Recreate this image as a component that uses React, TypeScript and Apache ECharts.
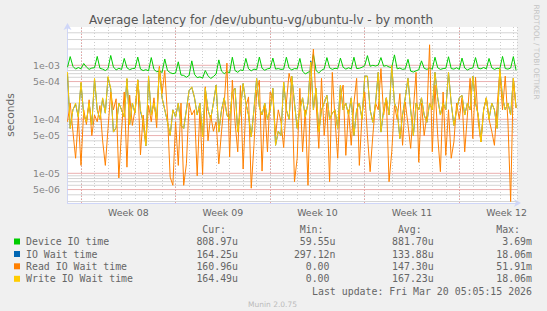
import React, { useEffect, useRef } from "react";
import * as echarts from "echarts";

// ---- time base: one point every 0.2 day, day 0 = first day line at the left edge
const dayStep = 0.2;

// ---- series values in microseconds
const deviceIO = [
  920, 1450, 960, 850, 910, 860, 1080, 930, 840, 890,
  900, 1460, 880, 850, 800, 870, 1520, 930, 820, 880,
  840, 1340, 900, 830, 870, 880, 1420, 850, 800, 830,
  790, 1390, 840, 760, 780, 740, 1310, 800, 730, 700,
  720, 1160, 660, 650, 600, 650, 1210, 680, 590, 610,
  580, 800, 640, 570, 620, 690, 1260, 780, 700, 760,
  730, 1410, 800, 740, 820, 800, 1340, 860, 790, 850,
  830, 1420, 880, 810, 860, 880, 1360, 850, 870, 840,
  850, 1410, 890, 820, 870, 860, 1340, 780, 690, 740,
  790, 1600, 800, 720, 810, 860, 1390, 900, 840, 880,
  870, 1360, 920, 850, 900, 860, 1410, 870, 880, 920,
  990, 1510, 960, 1000, 970, 1010, 1390, 960, 990, 930,
  910, 1560, 860, 890, 840, 860, 1290, 780, 750, 790,
  830, 1210, 880, 840, 890, 850, 1410, 900, 840, 870,
  880, 1440, 870, 850, 900, 840, 1360, 890, 820, 870,
  890, 1390, 880, 860, 910, 860, 1340, 900, 840, 880,
  870, 1460, 870, 850, 890, 1450, 809,
];

const ioWait = [
  700, 68, 150, 190, 110, 470, 120, 90, 200, 80,
  560, 150, 100, 240, 130, 600, 360, 58, 70, 200,
  150, 110, 560, 80, 200, 130, 540, 140, 90, 32,
  620, 120, 200, 100, 900, 250, 150, 90, 50, 150,
  110, 200, 77, 68, 150, 340, 390, 250, 120, 200,
  47, 375, 150, 100, 200, 430, 58, 150, 250, 120,
  100, 320, 375, 58, 150, 460, 200, 120, 47, 150,
  574, 169, 120, 200, 100, 150, 375, 33, 60, 50,
  490, 150, 100, 630, 200, 68, 150, 250, 110, 200,
  1200, 150, 375, 58, 150, 200, 278, 100, 130, 150,
  68, 430, 150, 200, 120, 250, 50, 150, 200, 100,
  630, 630, 150, 88, 200, 740, 58, 150, 250, 120,
  1000, 200, 150, 44, 120, 250, 574, 150, 50, 200,
  150, 250, 120, 88, 200, 150, 740, 250, 120, 200,
  150, 740, 200, 77, 150, 250, 278, 120, 200, 150,
  630, 200, 120, 38, 150, 250, 100, 200, 150, 68,
  880, 250, 150, 200, 120, 574, 164.25,
];

const readWait = [
  90, 200, 60, 19, 110, 14, 150, 80, 230, 50,
  120, 90, 180, 40, 14, 68, 320, 150, 240, 8.2,
  60, 320, 13, 280, 77, 150, 530, 22, 120, 36,
  180, 90, 250, 70, 960, 300, 800, 120, 8.5, 6,
  90, 14, 200, 6, 15, 200, 120, 150, 9, 160,
  9.5, 400, 40, 120, 60, 90, 15, 60, 200, 1100,
  20, 530, 90, 25, 420, 12, 170, 260, 5.3, 33,
  320, 530, 11, 180, 25, 320, 250, 50, 150, 90,
  30, 200, 710, 420, 7, 19, 375, 25, 150, 6,
  490, 2000, 200, 29, 574, 50, 200, 7, 740, 100,
  19, 250, 430, 21.5, 150, 33, 200, 574, 14, 120,
  320, 50, 10.7, 50, 200, 150, 870, 120, 250, 7,
  25, 180, 100, 300, 33, 209, 80, 29, 150, 740,
  16, 200, 50, 120, 2400, 25, 430, 50, 10.7, 320,
  21.5, 150, 19, 38, 200, 100, 250, 25, 120, 574,
  44, 600, 90, 38, 150, 250, 100, 60, 33, 180,
  740, 150, 630, 90, 3, 574, 160.96,
];

const writeWait = [
  750, 68, 150, 200, 110, 490, 120, 90, 200, 80,
  574, 150, 100, 250, 130, 620, 375, 58, 70, 200,
  150, 110, 574, 80, 200, 130, 540, 150, 90, 32,
  630, 120, 200, 100, 880, 250, 150, 90, 50, 150,
  110, 200, 77, 68, 150, 340, 400, 250, 120, 200,
  47, 375, 150, 100, 200, 430, 58, 150, 250, 120,
  100, 320, 375, 58, 150, 460, 200, 120, 47, 150,
  574, 169, 120, 200, 100, 150, 375, 33, 60, 50,
  490, 150, 100, 630, 200, 68, 150, 250, 110, 200,
  1150, 150, 375, 58, 150, 200, 278, 100, 130, 150,
  68, 430, 150, 200, 120, 250, 50, 150, 200, 100,
  630, 630, 150, 88, 200, 740, 58, 150, 250, 120,
  1000, 200, 150, 44, 120, 250, 574, 150, 50, 200,
  150, 250, 120, 88, 200, 150, 740, 250, 120, 200,
  150, 740, 200, 77, 150, 250, 278, 120, 200, 150,
  630, 200, 120, 38, 150, 250, 100, 200, 150, 68,
  880, 250, 150, 200, 120, 574, 164.49,
];

// ---- axis ticks / labels
const weekLabels = ["Week 08", "Week 09", "Week 10", "Week 11", "Week 12"];
const weekLabelDays = [4.5, 11.5, 18.5, 25.5, 32.5];
const weekStartDays = [1, 8, 15, 22, 29];
const majorTicks = [5e-6, 1e-5, 5e-5, 1e-4, 5e-4, 1e-3];
const majorTickLabels = ["5e-06", "1e-05", "5e-05", "1e-04", "5e-04", "1e-03"];
const minorTicks = [
  3e-6, 4e-6, 6e-6, 7e-6, 8e-6, 9e-6, 2e-5, 3e-5, 4e-5, 6e-5, 7e-5, 8e-5, 9e-5,
  2e-4, 3e-4, 4e-4, 6e-4, 7e-4, 8e-4, 9e-4, 2e-3, 3e-3, 4e-3,
];

// ---- legend table
const legendNames = ["Device IO time", "IO Wait time", "Read IO Wait time", "Write IO Wait time"];
const legendColors = ["#00cc00", "#0066b3", "#ff8000", "#ffcc00"];
const curValues = ["808.97u", "164.25u", "160.96u", "164.49u"];
const minValues = ["59.55u", "297.12n", "0.00", "0.00"];
const avgValues = ["881.70u", "133.88u", "147.30u", "167.23u"];
const maxValues = ["3.69m", "18.06m", "51.91m", "18.06m"];
const columnHeaders = ["Cur:", "Min:", "Avg:", "Max:"];
const lastUpdate = "Last update: Fri Mar 20 05:05:15 2026";
const titleText = "Average latency for /dev/ubuntu-vg/ubuntu-lv - by month";

const X_MIN = 0;
const X_MAX = 33.27;
const Y_MIN = 2.82e-6;
const Y_MAX = 5.12e-3;

export default function App() {
  const ref = useRef<HTMLDivElement>(null);

  useEffect(() => {
    if (!ref.current) return;
    const chart = echarts.init(ref.current, undefined, { renderer: "svg" });

    const days = deviceIO.map((_, i) => +(i * dayStep).toFixed(2));
    const mk = (vals: number[]) => vals.map((v, i) => [days[i], v / 1e6]);

    const FONT = "#666666";
    const mono = "'DejaVu Sans Mono', monospace";
    const sans = "'DejaVu Sans', sans-serif";
    const charW = 6.0;

    const seriesDefs = [
      { name: legendNames[0], vals: deviceIO, color: legendColors[0] },
      { name: legendNames[1], vals: ioWait, color: legendColors[1] },
      { name: legendNames[2], vals: readWait, color: legendColors[2] },
      { name: legendNames[3], vals: writeWait, color: legendColors[3] },
    ];

    const minorColor = "#cccccc";
    const majorColor = "#e9a0a0";
    const minorStyle = { color: minorColor, type: [1, 2] as any, width: 1 };
    const majorStyle = { color: majorColor, type: [1, 2] as any, width: 1 };
    // horizontal grid: solid, light
    const hMinorStyle = { color: "#d4d4d4", type: "solid", width: 1 };
    const hMajorStyle = { color: "#eab0b0", type: "solid", width: 1 };

    const weekLineSeries = {
      type: "line",
      data: [],
      silent: true,
      z: 2,
      markLine: {
        silent: true,
        z: 2,
        precision: 12,
        symbol: ["none", "none"],
        animation: false,
        label: { show: false },
        emphasis: { disabled: true },
        data: weekStartDays.map((d) => ({ xAxis: d, lineStyle: majorStyle })),
      },
    };
    // horizontal grid lines as line series drawn on the log axis
    const hLineSeries = [
      ...minorTicks.map((v) => ({ v, style: hMinorStyle })),
      ...majorTicks.map((v) => ({ v, style: hMajorStyle })),
    ].map(({ v, style }) => ({
      type: "line",
      data: [
        [X_MIN, v],
        [X_MAX, v],
      ],
      symbol: "none",
      showSymbol: false,
      silent: true,
      clip: false,
      z: 2,
      lineStyle: style,
    }));
    // y tick labels anchored on the log axis
    const tickSeries = {
      type: "scatter",
      silent: true,
      z: 3,
      symbolSize: 1,
      itemStyle: { color: "rgba(0,0,0,0)" },
      data: majorTicks.map((v, i) => ({ value: [X_MIN, v], name: majorTickLabels[i] })),
      label: {
        show: true,
        position: "left",
        distance: 7,
        formatter: "{b}",
        color: FONT,
        fontFamily: sans,
        fontSize: 9.4,
      },
    };

    const graphics: any[] = [];
    graphics.push({
      type: "text",
      x: 261,
      y: 20,
      style: { text: titleText, fill: "#555555", fontFamily: sans, fontSize: 12, align: "center", verticalAlign: "middle" },
    });
    graphics.push({
      type: "text",
      x: 10,
      y: 115,
      rotation: Math.PI / 2,
      style: { text: "seconds", fill: FONT, fontFamily: sans, fontSize: 10.7, align: "center", verticalAlign: "middle" },
    });
    graphics.push({
      type: "text",
      x: 536.5,
      y: 52,
      rotation: -Math.PI / 2,
      style: { text: "RRDTOOL / TOBI OETIKER", fill: "#c4c4c4", fontFamily: sans, fontSize: 7.4, align: "center", verticalAlign: "middle" },
    });

    const colRight = [238, 335.5, 433.7, 532];
    const rowY = [241.5, 254, 266.3, 278.8];
    columnHeaders.forEach((h, c) =>
      graphics.push({
        type: "text",
        x: colRight[c] - 2 * charW,
        y: 229,
        style: { text: h, fill: FONT, fontFamily: mono, fontSize: 9.9, align: "right", verticalAlign: "middle" },
      })
    );
    const cols = [curValues, minValues, avgValues, maxValues];
    legendNames.forEach((n, r) => {
      graphics.push({
        type: "rect",
        shape: { x: 14, y: rowY[r] - 3, width: 6, height: 6 },
        style: { fill: legendColors[r] },
      });
      graphics.push({
        type: "text",
        x: 26,
        y: rowY[r],
        style: { text: n, fill: FONT, fontFamily: mono, fontSize: 9.9, align: "left", verticalAlign: "middle" },
      });
      cols.forEach((col, c) => {
        const s = col[r];
        const hasUnit = /[a-zA-Z]$/.test(s);
        graphics.push({
          type: "text",
          x: colRight[c] - (hasUnit ? 0 : charW),
          y: rowY[r],
          style: { text: s, fill: FONT, fontFamily: mono, fontSize: 9.9, align: "right", verticalAlign: "middle" },
        });
      });
    });
    graphics.push({
      type: "text",
      x: 532,
      y: 291.6,
      style: { text: lastUpdate, fill: FONT, fontFamily: mono, fontSize: 9.9, align: "right", verticalAlign: "middle" },
    });
    graphics.push({
      type: "text",
      x: 272.5,
      y: 304.5,
      style: { text: "Munin 2.0.75", fill: "#bbbbbb", fontFamily: sans, fontSize: 7.5, align: "center", verticalAlign: "middle" },
    });

    const axisColor = "#cfd6f8";

    const dataSeries = seriesDefs.map((s, i) => ({
      type: "line",
      name: s.name,
      data: mk(s.vals),
      showSymbol: false,
      symbol: "none",
      silent: true,
      z: 10 + i,
      lineStyle: { color: s.color, width: 1 },
      itemStyle: { color: s.color },
    }));

    chart.setOption({
      animation: false,
      backgroundColor: "#f0f0f0",
      grid: { left: 67.5, top: 27, width: 449.5, height: 176, show: true, backgroundColor: "#ffffff", borderWidth: 0 },
      xAxis: {
        type: "value",
        min: X_MIN,
        max: X_MAX,
        interval: 1,
        axisLine: {
          show: true,
          onZero: false,
          lineStyle: { color: axisColor, width: 1 },
          symbol: ["none", "arrow"],
          symbolSize: [6, 7],
          symbolOffset: [0, 4],
        },
        axisTick: { show: false },
        axisLabel: {
          customValues: weekLabelDays,
          formatter: (v: number) => {
            const k = weekLabelDays.findIndex((d) => Math.abs(d - v) < 1e-6);
            return k >= 0 ? weekLabels[k] : "";
          },
          color: FONT,
          fontFamily: sans,
          fontSize: 9.4,
          margin: 5,
        },
        splitLine: { show: true, lineStyle: minorStyle },
      },
      yAxis: {
        type: "log",
        logBase: 10,
        min: Y_MIN,
        max: Y_MAX,
        axisLine: {
          show: true,
          onZero: false,
          lineStyle: { color: axisColor, width: 1 },
          symbol: ["none", "arrow"],
          symbolSize: [6, 7],
          symbolOffset: [0, 4],
        },
        axisTick: { show: false },
        axisLabel: { show: false },
        splitLine: { show: false },
        minorSplitLine: { show: false },
      },
      series: [weekLineSeries, ...hLineSeries, tickSeries, ...dataSeries],
      graphic: graphics,
    });

    return () => chart.dispose();
  }, []);

  return (
    <div
      ref={ref}
      style={{ position: "fixed", left: 0, top: 0, width: 547, height: 311, background: "#f0f0f0" }}
    />
  );
}
